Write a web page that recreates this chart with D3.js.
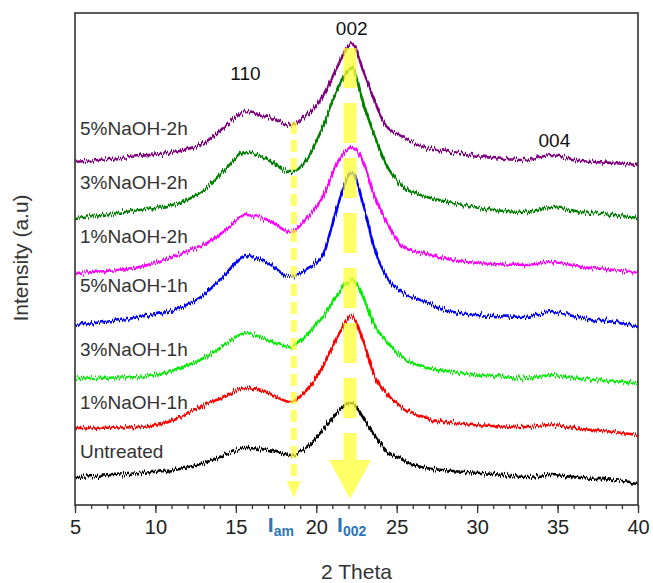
<!DOCTYPE html>
<html>
<head>
<meta charset="utf-8">
<script src="https://cdn.jsdelivr.net/npm/d3@7"></script>
<style>
  body { margin: 0; background: #fff; }
  text { font-family: "Liberation Sans", Arial, sans-serif; fill: #222; }
</style>
</head>
<body>
<div id="chart"></div>
<script>
// 2 theta positions where the curves were read
var angles = [5, 9, 11.5, 13, 14.3, 15.6, 17, 18.4, 19.4, 20.4, 21.3, 22.2, 23.0, 23.6, 24.3, 25.4, 26.5, 28.5, 31, 33, 34.6, 36.5, 38.5, 40];

// stacked intensities (a.u.), top to bottom
var naoh5_2h = [343, 349, 354, 362, 378, 393, 388, 380, 390, 408, 438, 462, 430, 405, 380, 368, 359, 353, 347, 345, 350, 344, 342, 340];
var naoh3_2h = [287, 295, 302, 315, 335, 353, 345, 333, 345, 378, 415, 437, 398, 370, 342, 318, 310, 302, 295, 293, 298, 293, 290, 287];
var naoh1_2h = [232, 238, 251, 260, 274, 290, 285, 273, 287, 308, 342, 358, 340, 310, 285, 258, 252, 245, 241, 240, 243, 238, 235, 232];
var naoh5_1h = [180, 188, 197, 210, 230, 249, 242, 228, 236, 250, 298, 332, 295, 257, 230, 212, 205, 193, 189, 188, 193, 187, 183, 178];
var naoh3_1h = [127, 128, 137, 147, 160, 172, 165, 158, 170, 188, 210, 225, 205, 180, 165, 147, 139, 133, 129, 127, 130, 126, 124, 122];
var naoh1_1h = [77, 78, 87, 100, 108, 117, 112, 103, 115, 138, 168, 188, 160, 130, 113, 97, 88, 82, 79, 78, 80, 76, 73, 70];
var untreated = [28, 32, 36, 42, 50, 57, 55, 50, 57, 75, 93, 102, 85, 70, 55, 45, 38, 34, 31, 28, 30, 27, 25, 22];

var names = ["5%NaOH-2h", "3%NaOH-2h", "1%NaOH-2h", "5%NaOH-1h", "3%NaOH-1h", "1%NaOH-1h", "Untreated"];
var seriesValues = [naoh5_2h, naoh3_2h, naoh1_2h, naoh5_1h, naoh3_1h, naoh1_1h, untreated];
var colors = ["#800080", "#008000", "#ff00ff", "#0000ff", "#00ee00", "#ff0000", "#000000"];

var xTicks = [5, 10, 15, 20, 25, 30, 35, 40];
var peaks = [["110", 15.6, 425], ["002", 22.2, 470], ["004", 34.8, 358]];

var W = 653, H = 583;
var plotL = 75, plotT = 13, plotR = 638, plotB = 505;

var svg = d3.select("#chart").append("svg")
    .attr("width", W)
    .attr("height", H);

// jagged look of the raw scans, vertical displacement only
var filt = svg.append("defs").append("filter")
    .attr("id", "noisy")
    .attr("filterUnits", "userSpaceOnUse")
    .attr("x", 0).attr("y", 0)
    .attr("width", W).attr("height", H);
filt.append("feTurbulence")
    .attr("type", "fractalNoise")
    .attr("baseFrequency", "1.1 0.03")
    .attr("numOctaves", 2)
    .attr("seed", 3)
    .attr("result", "turb");
filt.append("feColorMatrix")
    .attr("in", "turb")
    .attr("type", "matrix")
    .attr("values", "0 0 0 0 0.5  0 1 0 0 0  0 0 0 0 0  0 0 0 0 1")
    .attr("result", "map");
filt.append("feDisplacementMap")
    .attr("in", "SourceGraphic")
    .attr("in2", "map")
    .attr("scale", 8)
    .attr("xChannelSelector", "R")
    .attr("yChannelSelector", "G");

var x = d3.scaleLinear().domain([5, 40]).range([plotL, plotR]);
var y = d3.scaleLinear().domain([0, plotB - plotT]).range([plotB, plotT]);

var line = d3.line()
    .x(function(d, i) { return x(angles[i]); })
    .y(function(d) { return y(d); })
    .curve(d3.curveMonotoneX);

var curves = svg.append("g").attr("filter", "url(#noisy)");
curves.selectAll("path")
    .data(seriesValues)
    .enter().append("path")
    .attr("d", line)
    .attr("fill", "none")
    .attr("stroke", function(d, i) { return colors[i]; })
    .attr("stroke-width", 2.6)
    .attr("stroke-linejoin", "round");

// sample names sit a little above the start of each curve
var labelLift = [27, 29, 30, 33, 22, 19, 19];
svg.selectAll(".lbl")
    .data(names)
    .enter().append("text")
    .attr("class", "lbl")
    .attr("x", plotL + 5)
    .attr("y", function(d, i) { return y(seriesValues[i][0]) - labelLift[i]; })
    .style("font-size", "19px")
    .style("fill", "#333")
    .text(function(d) { return d; });

// peak indices
svg.selectAll(".peak")
    .data(peaks)
    .enter().append("text")
    .attr("class", "peak")
    .attr("x", function(d) { return x(d[1]); })
    .attr("y", function(d) { return y(d[2]); })
    .attr("text-anchor", "middle")
    .style("font-size", "19px")
    .style("fill", "#111")
    .text(function(d) { return d[0]; });

// yellow arrows: amorphous minimum and 002 peak
var arrows = svg.append("g").style("opacity", 0.75);
var amX = x(18.6), pkX = x(22.1);
arrows.append("line")
    .attr("x1", amX).attr("x2", amX)
    .attr("y1", y(383)).attr("y2", y(24))
    .attr("stroke", "#ffff33")
    .attr("stroke-width", 6)
    .attr("stroke-dasharray", "12,6");
arrows.append("path")
    .attr("d", "M" + (amX - 7) + "," + y(24) + "L" + (amX + 7) + "," + y(24) + "L" + amX + "," + y(7) + "Z")
    .attr("fill", "#ffff33");
arrows.append("line")
    .attr("x1", pkX).attr("x2", pkX)
    .attr("y1", y(457)).attr("y2", y(43))
    .attr("stroke", "#ffff33")
    .attr("stroke-width", 13)
    .attr("stroke-dasharray", "40,15");
arrows.append("path")
    .attr("d", "M" + (pkX - 21) + "," + y(45) + "L" + (pkX + 21) + "," + y(45) + "L" + pkX + "," + y(6) + "Z")
    .attr("fill", "#ffff33");

// frame
svg.append("rect")
    .attr("x", plotL).attr("y", plotT)
    .attr("width", plotR - plotL).attr("height", plotB - plotT)
    .attr("fill", "none")
    .attr("stroke", "#333")
    .attr("stroke-width", 1.6);

// bottom axis with minor ticks
var minor = svg.append("g")
    .attr("transform", "translate(0," + plotB + ")")
    .call(d3.axisBottom(x).ticks(35).tickSize(4).tickFormat(""));
minor.select(".domain").remove();
var major = svg.append("g")
    .attr("transform", "translate(0," + plotB + ")")
    .call(d3.axisBottom(x).tickValues(xTicks).tickSize(8).tickPadding(7));
major.select(".domain").remove();
major.selectAll("text").style("font-size", "20px").style("fill", "#222");
svg.selectAll(".tick line").attr("stroke", "#333").attr("stroke-width", 1.3);

// I_am and I_002 marks under the arrows
var iLabels = [["am", 17.8], ["002", 22.2]];
var il = svg.selectAll(".ilab")
    .data(iLabels)
    .enter().append("text")
    .attr("class", "ilab")
    .attr("x", function(d) { return x(d[1]); })
    .attr("y", 532)
    .attr("text-anchor", "middle")
    .style("font-size", "21px")
    .style("font-weight", "bold")
    .style("fill", "#2e75b6");
il.append("tspan").text("I");
il.append("tspan")
    .attr("dy", 4)
    .style("font-size", "14px")
    .style("fill", "#2e75b6")
    .text(function(d) { return d[0]; });

svg.append("text")
    .attr("x", (plotL + plotR) / 2)
    .attr("y", 579)
    .attr("text-anchor", "middle")
    .style("font-size", "21px")
    .style("fill", "#333")
    .text("2 Theta");

svg.append("text")
    .attr("transform", "translate(28," + 258 + ") rotate(-90)")
    .attr("text-anchor", "middle")
    .style("font-size", "21px")
    .style("fill", "#333")
    .text("Intensity (a.u)");
</script>
</body>
</html>
